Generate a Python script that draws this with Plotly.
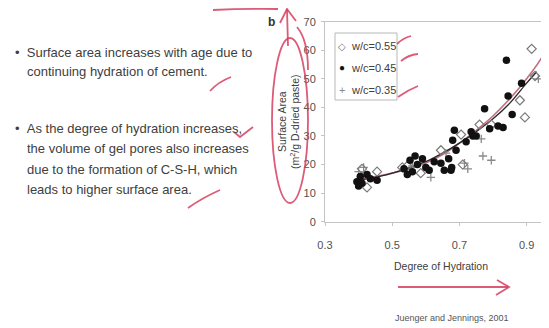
import plotly.graph_objects as go

# ---------------- data ----------------
series_names = ["w/c=0.55", "w/c=0.45", "w/c=0.35"]

x_055 = [0.41, 0.425, 0.455, 0.53, 0.545, 0.585, 0.645, 0.705, 0.71, 0.76, 0.795, 0.88, 0.895, 0.915, 0.925]
y_055 = [18.5, 12.0, 17.5, 19.0, 19.5, 17.0, 25.0, 30.5, 20.0, 34.0, 34.0, 42.5, 36.5, 60.5, 51.0]

x_045 = [0.395, 0.40, 0.405, 0.41, 0.425, 0.435, 0.455, 0.535, 0.545, 0.553, 0.56, 0.568, 0.575,
         0.59, 0.60, 0.61, 0.625, 0.645, 0.655, 0.668, 0.675, 0.677, 0.68, 0.685, 0.69, 0.72,
         0.735, 0.74, 0.75, 0.775, 0.79, 0.815, 0.83, 0.84, 0.845, 0.857, 0.885]
y_045 = [14.0, 12.5, 15.8, 13.5, 16.5, 15.0, 14.5, 18.5, 16.5, 21.5, 17.5, 23.0, 20.0,
         22.0, 19.0, 18.0, 21.0, 20.5, 18.0, 22.0, 18.0, 19.0, 28.5, 32.0, 25.0, 28.0,
         31.5, 30.0, 30.0, 39.5, 32.5, 33.5, 33.0, 56.5, 44.0, 37.5, 48.5]

x_035 = [0.40, 0.415, 0.56, 0.615, 0.66, 0.715, 0.725, 0.765, 0.77, 0.795, 0.935]
y_035 = [17.5, 19.0, 19.5, 15.5, 24.0, 20.5, 18.5, 29.0, 23.0, 21.5, 50.0]

fit_black_x = [0.40, 0.45, 0.50, 0.55, 0.60, 0.65, 0.70, 0.75, 0.80, 0.85, 0.90, 0.93]
fit_black_y = [14.5, 15.5, 17.0, 18.8, 21.0, 24.0, 27.5, 31.5, 36.0, 41.5, 48.5, 52.5]

fit_red_x = [0.41, 0.45, 0.50, 0.55, 0.60, 0.65, 0.70, 0.75, 0.80, 0.85, 0.90, 0.95, 0.97]
fit_red_y = [15.0, 15.8, 17.0, 18.5, 20.5, 23.5, 27.5, 32.0, 37.0, 43.0, 50.0, 58.5, 65.0]

x_tickvals = [0.3, 0.5, 0.7, 0.9]
x_ticktext = ["0.3", "0.5", "0.7", "0.9"]
y_tickvals = [0, 10, 20, 30, 40, 50, 60, 70]

bullet_lines_1 = ["Surface area increases with age due to",
                  "continuing hydration of cement."]
bullet_lines_2 = ["As the degree of hydration increases,",
                  "the volume of gel pores also increases",
                  "due to the formation of C-S-H, which",
                  "leads to higher surface area."]
x_title = "Degree of Hydration"
y_title = "Surface Area<br>(m<sup>2</sup>/g D-dried paste)"
source_text = "Juenger and Jennings, 2001"
panel_label = "b"

# ---------------- layout helpers ----------------
W, H = 549, 328
OFF = 8  # page body margin: figure starts 8 px right/down in the window
FONT = "Liberation Sans, Arial, sans-serif"
TXT = "#404040"
RED = "rgba(214,62,95,0.85)"


def px(x):
    return (x - OFF) / W


def py(y):
    return 1 - (y - OFF) / H


def path(points, closed=False):
    s = "M " + " L ".join(f"{px(a):.5f},{py(b):.5f}" for a, b in points)
    return s + (" Z" if closed else "")


def qpath(p0, c, p1):
    return (f"M {px(p0[0]):.5f},{py(p0[1]):.5f} Q {px(c[0]):.5f},{py(c[1]):.5f} "
            f"{px(p1[0]):.5f},{py(p1[1]):.5f}")


fig = go.Figure()

fig.add_trace(go.Scatter(x=fit_red_x, y=fit_red_y, mode="lines", line=dict(color="#c46d7e", width=1.6, shape="spline"),
                         showlegend=False, hoverinfo="skip"))
fig.add_trace(go.Scatter(x=fit_black_x, y=fit_black_y, mode="lines", line=dict(color="#2a2a2a", width=1.4, shape="spline"),
                         showlegend=False, hoverinfo="skip"))
fig.add_trace(go.Scatter(x=x_035, y=y_035, mode="markers", name=series_names[2],
                         marker=dict(symbol="cross-thin", size=6, line=dict(color="#8a8a8a", width=1.3)),
                         showlegend=False))
fig.add_trace(go.Scatter(x=x_055, y=y_055, mode="markers", name=series_names[0],
                         marker=dict(symbol="diamond-open", size=7, color="#7a7a7a", line=dict(width=1.2)),
                         showlegend=False))
fig.add_trace(go.Scatter(x=x_045, y=y_045, mode="markers", name=series_names[1],
                         marker=dict(symbol="circle", size=7.5, color="#111111"),
                         showlegend=False))

axis_line = "#c4c4c4"
x_right_page = W + OFF
fig.update_xaxes(domain=[px(325), 1], range=[0.3, 0.3 + (x_right_page - 325) / 336],
                 tickvals=x_tickvals, ticktext=x_ticktext,
                 showline=True, linecolor=axis_line, linewidth=1, mirror=True, showgrid=False, zeroline=False,
                 ticks="outside", ticklen=3, tickcolor=axis_line, ticklabelstandoff=10, automargin=False,
                 tickfont=dict(family=FONT, size=11, color="#505050"),
                 title=dict(text=x_title, font=dict(family=FONT, size=10.5, color=TXT), standoff=12))
fig.update_yaxes(domain=[py(221.7), py(21.7)], range=[0, 70], tickvals=y_tickvals,
                 showline=True, linecolor=axis_line, linewidth=1, showgrid=False, zeroline=False,
                 ticks="outside", ticklen=3, tickcolor=axis_line, ticklabelstandoff=3, automargin=False,
                 tickfont=dict(family=FONT, size=11, color="#505050"),
                 title=dict(text=y_title, font=dict(family=FONT, size=10.5, color=TXT), standoff=1))


def note(text, x, y, size, color=TXT, xanchor="center"):
    return dict(text=text, x=px(x), y=py(y), xref="paper", yref="paper", xanchor=xanchor, yanchor="middle",
                showarrow=False, font=dict(family=FONT, size=size, color=color))


ann = []
# left bullet text
BUL = "•\u00a0\u00a0"
lines = [(BUL + bullet_lines_1[0], 13, 52), (bullet_lines_1[1], 25, 72)]
lines += [((BUL if i == 0 else "") + t, 13 if i == 0 else 25, 128 + i * 20.5) for i, t in enumerate(bullet_lines_2)]
for t, x0, y0 in lines:
    ann.append(note(t, x0, y0, 13, xanchor="left"))
ann.append(note(f"<b>{panel_label}</b>", 271, 22, 12, "#333333"))
ann.append(note(source_text, 452, 318, 9, "#555555"))

# legend (manual box)
legend_rows = [("◇", "#7a7a7a", 46, 10), ("●", "#111111", 68, 10), ("+", "#8a8a8a", 90, 11)]
for (sym, col, yy, fs), name in zip(legend_rows, series_names):
    ann.append(note(sym, 342, yy, fs, col))
    ann.append(note(name, 349, yy, 11, xanchor="left"))

shapes = [dict(type="rect", xref="paper", yref="paper", x0=px(335), x1=px(397), y0=py(100), y1=py(33),
               line=dict(color="#b8b8b8", width=1), fillcolor="rgba(255,255,255,0)")]

red = dict(color=RED, width=1.8)
strokes = [
    qpath((213, 10), (245, 8.5), (278, 9)),
    path([(288, 46), (287, 9)]),
    path([(280, 23), (287, 9), (296, 21)]),
    qpath((297, 27), (308, 40), (308, 70)),
    qpath((397, 44), (403, 38), (411, 36)),
    qpath((401, 61), (408, 55), (418, 54)),
    qpath((398, 97), (408, 90), (418, 86)),
    qpath((210, 91), (218, 82), (231, 77)),
    path([(234, 132), (240, 137), (253, 127)]),
    qpath((188, 208), (202, 198), (220, 190)),
    path([(398, 287), (508, 287)]),
    path([(497, 280), (509, 287), (496, 295)]),
]
for s in strokes:
    shapes.append(dict(type="path", xref="paper", yref="paper", path=s, line=red))
shapes.append(dict(type="circle", xref="paper", yref="paper", x0=px(272), x1=px(308), y0=py(203), y1=py(38),
                   line=red))

fig.update_layout(width=W, height=H, margin=dict(l=0, r=0, t=0, b=0, autoexpand=False), paper_bgcolor="white",
                  plot_bgcolor="white", showlegend=False, annotations=ann, shapes=shapes,
                  font=dict(family=FONT, color=TXT))

fig.write_html("out.html")
